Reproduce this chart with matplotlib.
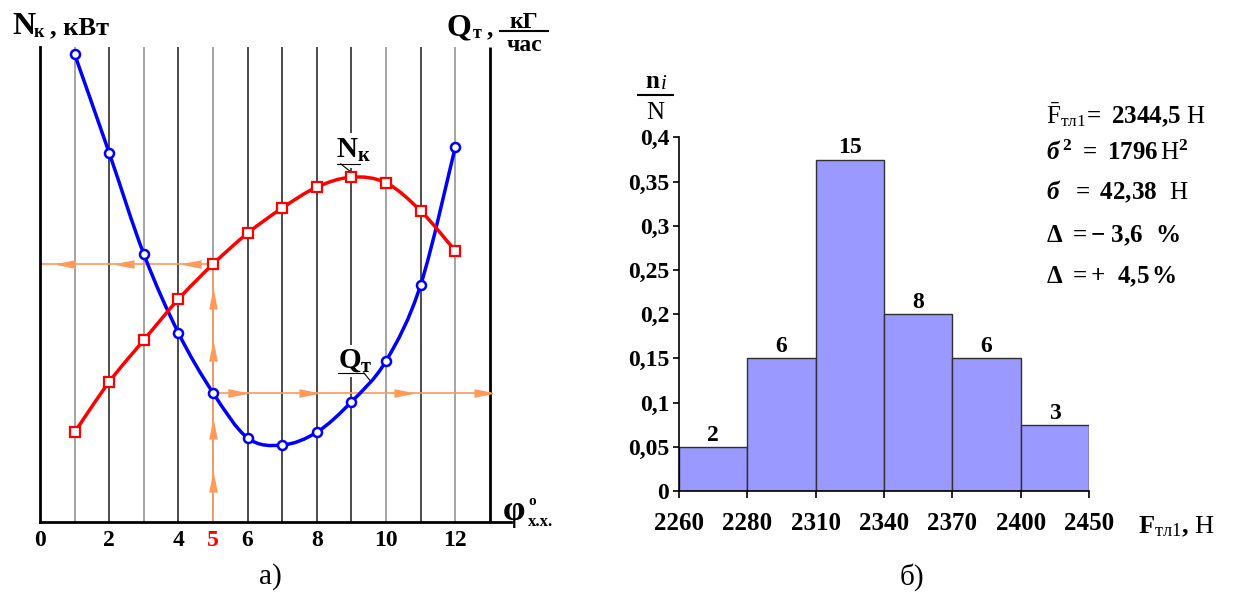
import numpy as np
import matplotlib.pyplot as plt
from matplotlib.path import Path
from matplotlib.patches import PathPatch
from matplotlib.lines import Line2D

plt.rcParams['font.family'] = ['Liberation Serif', 'DejaVu Serif']
plt.rcParams['mathtext.fontset'] = 'custom'
plt.rcParams['mathtext.rm'] = 'Liberation Serif'
plt.rcParams['mathtext.it'] = 'Liberation Serif:style=italic:weight=bold'
plt.rcParams['mathtext.bf'] = 'Liberation Serif:weight=bold'
plt.rcParams['mathtext.default'] = 'bf'

# --- данные: а) характеристики по углу phi х.х. ---
phi = [1, 2, 3, 4, 5, 6, 7, 8, 9, 10, 11, 12]
q_t = [98.5, 77.7, 56.4, 39.8, 27.2, 17.7, 16.2, 18.9, 25.3, 33.9, 49.9, 78.9]   # Q_т
n_k = [18.9, 29.5, 38.3, 46.9, 54.3, 60.8, 66.1, 70.5, 72.6, 71.4, 65.5, 57.1]   # N_к
phi_ticks = [0, 2, 4, 5, 6, 8, 10, 12]
phi_sel = 5

# стрелки на оранжевых линиях
arrows_up_y = [8.2, 19.4, 35.8, 46.7]
arrows_left_x = [0.76, 2.47, 4.4]
arrows_right_x = [5.7, 7.75, 10.5, 12.8]

# --- данные: б) гистограмма ---
edge_labels = ['2260', '2280', '2310', '2340', '2370', '2400', '2450']
counts = [2, 6, 15, 8, 6, 3]
rel = np.array(counts) / sum(counts)
yticks2 = [0, 0.05, 0.1, 0.15, 0.2, 0.25, 0.3, 0.35, 0.4]

stats = [r'$\bar{\mathrm{F}}_{\mathrm{тл1}}\!=\ 2344{,}5\ \mathrm{Н}$',
         r'$\mathit{б}^{\,2}\ =\ 1796\,\mathrm{Н}^{2}$',
         r'$\mathit{б}\ \ =\ 42{,}38\ \ \mathrm{Н}$',
         r'$\Delta\ =-\ 3{,}6\ \ \%$',
         r'$\Delta\ =+\ \ 4{,}5\,\%$']

W, H = 1237, 596
fig = plt.figure(figsize=(W / 100, H / 100), dpi=100)


def fp(x, y):
    # пиксели -> доли фигуры
    return x / W, 1 - y / H


def smooth(xs, ys):
    # сглаженная линия (как в Excel) через точки
    n = len(xs)
    verts = [(xs[0], ys[0])]
    codes = [Path.MOVETO]
    for i in range(n - 1):
        a = max(i - 1, 0)
        b = min(i + 2, n - 1)
        c1 = (xs[i] + (xs[i + 1] - xs[a]) / 6, ys[i] + (ys[i + 1] - ys[a]) / 6)
        c2 = (xs[i + 1] - (xs[b] - xs[i]) / 6, ys[i + 1] - (ys[b] - ys[i]) / 6)
        verts += [c1, c2, (xs[i + 1], ys[i + 1])]
        codes += [Path.CURVE4] * 3
    return Path(verts, codes)


# ================= а) =================
ax1 = fig.add_axes([40 / W, (H - 522) / H, 470.6 / W, 475 / H])
ax1.set_xlim(0, 13.6)
ax1.set_ylim(0, 100)
for s in ['top', 'right']:
    ax1.spines[s].set_visible(False)
ax1.spines['left'].set_linewidth(2)
ax1.spines['bottom'].set_linewidth(2)

grid_x = np.arange(1, 13)
grid_col = ['#8c8c8c' if k in (1, 3, 5, 10, 12) else '#1a1a1a' for k in grid_x]
ax1.vlines(grid_x, 0, 100, colors=grid_col, lw=1.1, zorder=1)
ax1.vlines(13, 0, 100, colors='black', lw=2, zorder=1)

ax1.set_yticks([])
ax1.set_xticks(phi_ticks, [str(t) for t in phi_ticks], fontsize=17, fontweight='bold')
ax1.tick_params(axis='x', length=0, pad=6)
ax1.get_xticklabels()[phi_ticks.index(phi_sel)].set_color('red')

# оранжевые построения
oc = '#ff9a5a'
i5 = phi.index(phi_sel)
ax1.plot([phi_sel, phi_sel], [0, n_k[i5]], color=oc, lw=1.2, zorder=2)
ax1.plot([0, phi_sel], [n_k[i5], n_k[i5]], color=oc, lw=1.2, zorder=2)
ax1.plot([phi_sel, 13], [q_t[i5], q_t[i5]], color=oc, lw=1.2, zorder=2)
up_m = [(-0.4, -1), (0, 1), (0.4, -1)]
left_m = [(1, -0.4), (-1, 0), (1, 0.4)]
right_m = [(-1, -0.4), (1, 0), (-1, 0.4)]
ax1.plot([phi_sel] * len(arrows_up_y), arrows_up_y, ls='none', marker=up_m, ms=13, color=oc, zorder=2)
ax1.plot(arrows_left_x, [n_k[i5]] * len(arrows_left_x), ls='none', marker=left_m, ms=13, color=oc, zorder=2)
ax1.plot(arrows_right_x, [q_t[i5]] * len(arrows_right_x), ls='none', marker=right_m, ms=13, color=oc, zorder=2)

# кривые
ax1.add_patch(PathPatch(smooth(phi, q_t), fill=False, ec='#0000ff', lw=2.5, zorder=4))
ax1.plot(phi, q_t, ls='none', marker='o', ms=6.5, mfc='white', mec='#0000ff', mew=1.8, zorder=5)
ax1.add_patch(PathPatch(smooth(phi, n_k), fill=False, ec='#ff0000', lw=2.5, zorder=4))
ax1.plot(phi, n_k, ls='none', marker='s', ms=6.5, mfc='white', mec='#ff0000', mew=1.6, zorder=5)

# подписи кривых
ax1.text(9.05, 76.6, r'$\mathbf{N}_{к}$', fontsize=21, ha='center', va='baseline', zorder=3,
         bbox=dict(fc='white', ec='none', pad=3))
ax1.plot([8.58, 9.25], [75.4, 75.4], color='black', lw=0.8, zorder=3)
ax1.plot([8.69, 8.95], [75.4, 73.9], color='black', lw=0.8, zorder=3)
ax1.text(8.6, 32.4, r'$\mathbf{Q}_{т}$', fontsize=21, ha='left', va='baseline', zorder=3,
         bbox=dict(fc='white', ec='none', pad=2))
ax1.plot([8.6, 9.36], [31.4, 31.4], color='black', lw=0.8, zorder=3)
ax1.plot([9.36, 9.57], [31.4, 29.5], color='black', lw=0.8, zorder=3)

# подписи осей
fig.text(*fp(12, 34), 'N', fontsize=23, fontweight='bold', va='baseline')
fig.text(*fp(34, 37), 'к', fontsize=13, fontweight='bold', va='baseline')
fig.text(*fp(50, 34), ', кВт', fontsize=19, fontweight='bold', va='baseline')

fig.text(*fp(446, 35), 'Q', fontsize=23, fontweight='bold', va='baseline')
fig.text(*fp(473, 38), 'т', fontsize=13, fontweight='bold', va='baseline')
fig.text(*fp(487, 35), ',', fontsize=18, fontweight='bold', va='baseline')
fig.text(*fp(524, 28), 'кГ', fontsize=17, fontweight='bold', va='baseline', ha='center')
fig.text(*fp(524, 51), 'час', fontsize=17, fontweight='bold', va='baseline', ha='center')
fig.add_artist(Line2D([500 / W, 548 / W], [1 - 31 / H, 1 - 31 / H], color='black', lw=1.5))

fig.text(*fp(503, 520), 'φ', fontsize=26, fontweight='bold', va='baseline')
fig.text(*fp(528, 505), 'о', fontsize=11, fontweight='bold', va='baseline')
fig.text(*fp(528, 526), 'х.х.', fontsize=12, fontweight='bold', va='baseline')

fig.text(*fp(270, 577), 'а)', fontsize=21, ha='center', va='center')

# ================= б) =================
ax2 = fig.add_axes([679 / W, (H - 491) / H, 410 / W, (491 - 137.4) / H])
ax2.bar(np.arange(len(counts)) + 0.5, rel, width=1, color='#9999ff', edgecolor='#303030', lw=1)
ax2.set_xlim(0, len(counts))
ax2.set_ylim(0, 0.4)
for s in ['top', 'right']:
    ax2.spines[s].set_visible(False)
ax2.spines['left'].set_linewidth(1.2)
ax2.spines['bottom'].set_linewidth(1.2)
ax2.set_xticks(np.arange(len(edge_labels)), edge_labels, fontsize=18, fontweight='bold')
ax2.set_yticks(yticks2, [f'{v:g}'.replace('.', ',') for v in yticks2], fontsize=17, fontweight='bold')
ax2.tick_params(axis='x', length=5, width=1.2, pad=10)
ax2.tick_params(axis='y', length=4, width=1.2, pad=3)

for i, (c, r) in enumerate(zip(counts, rel)):
    ax2.text(i + 0.5, r + 0.007, str(c), ha='center', va='baseline', fontsize=17, fontweight='bold')

# n_i / N
fig.text(*fp(645, 88), 'n', fontsize=18, fontweight='bold', va='baseline')
fig.text(*fp(661, 89), 'i', fontsize=15, style='italic', va='baseline')
fig.add_artist(Line2D([638 / W, 673 / W], [1 - 95 / H, 1 - 95 / H], color='black', lw=1.5))
fig.text(*fp(655, 119), 'N', fontsize=18, va='baseline', ha='center')

fig.text(*fp(1138, 533), r'$\mathbf{F}_{\mathrm{тл1}}\mathbf{,}\ \mathrm{Н}$', fontsize=19, va='baseline')

for s, yb in zip(stats, [123, 160, 199, 242, 283]):
    fig.text(*fp(1046, yb), s, fontsize=18, va='baseline')

fig.text(*fp(912, 577), 'б)', fontsize=21, ha='center', va='center')

fig.savefig('out.png', dpi=100)
